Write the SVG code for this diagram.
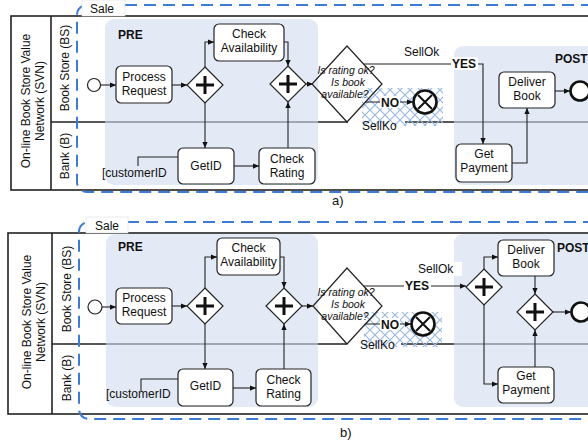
<svg xmlns="http://www.w3.org/2000/svg" width="588" height="444" viewBox="0 0 588 444">
<style>
.t{font-family:"Liberation Sans",Arial,sans-serif;font-size:12px;fill:#111}
.tm{text-anchor:middle}
.b{font-weight:bold}
.it{font-style:italic;font-size:10.5px}
.box{fill:#fff;stroke:#222;stroke-width:1.2}
.gw{fill:#fff;stroke:#222;stroke-width:1.2}
.dec{fill:none;stroke:#222;stroke-width:1.2}
.plus{stroke:#111;stroke-width:3;fill:none}
.ev{fill:#fff;stroke:#222;stroke-width:1.2}
.end{fill:#fff;stroke:#111;stroke-width:2.6}
.x{stroke:#111;stroke-width:2;fill:none}
.cn{fill:none;stroke:#222;stroke-width:1.1}
.region{fill:#d2dcee;fill-opacity:0.6}
.pool{fill:none;stroke:#222;stroke-width:1.6}
.sale{fill:none;stroke:#3d7bd4;stroke-width:2;stroke-dasharray:12 7}
.wb{fill:#fff}
</style>
<defs>
<marker id="ah" viewBox="0 0 8 8" refX="8" refY="4" markerWidth="6" markerHeight="6" orient="auto" markerUnits="userSpaceOnUse"><path d="M0,0.5 L8,4 L0,7.5 z" fill="#111"/></marker>
<pattern id="hatch" patternUnits="userSpaceOnUse" width="10" height="10"><path d="M0,0 L10,10 M10,0 L0,10" stroke="#9ab8e2" stroke-width="1.2" fill="none"/></pattern>
</defs>

<!-- ================= a) ================= -->
<g id="diagram-a">
  <g id="pool-a">
    <path class="pool" d="M51,122 H348 M405,122 H640"/>
    <rect class="pool" x="11" y="16" width="630" height="174"/>
    <line class="pool" x1="51" y1="16" x2="51" y2="190"/>
    <text class="t tm" transform="translate(31,101) rotate(-90)"><tspan x="0" y="-1">On-line Book Store Value</tspan><tspan x="0" y="13">Network (SVN)</tspan></text>
    <text class="t tm" transform="translate(65,68) rotate(-90)" y="4">Book Store (BS)</text>
    <text class="t tm" transform="translate(65,156) rotate(-90)" y="4">Bank (B)</text>
  </g>
  <g id="sale-a">
    <rect class="sale" x="77" y="5" width="580" height="187" rx="10"/>
    <rect x="82" y="0" width="43" height="16" fill="#fff" stroke="#ddd" stroke-width="0.6"/>
    <text class="t" x="90" y="13">Sale</text>
  </g>
  <g id="pre-a">
    <rect class="region" x="105" y="19" width="213" height="166" rx="9"/>
    <text class="t b" x="118" y="39">PRE</text>
  </g>
  <g id="post-a">
    <rect class="region" x="454" y="46" width="160" height="139" rx="9"/>
    <text class="t b" x="555" y="63">POST</text>
  </g>
  <rect id="hatch-a" x="362" y="88" width="81" height="38" fill="url(#hatch)"/>
  <g id="connectors-a">
    <path class="cn" d="M100.5,85 H116" marker-end="url(#ah)"/>
    <path class="cn" d="M172,85 H187" marker-end="url(#ah)"/>
    <path class="cn" d="M205,67 V42 H214" marker-end="url(#ah)"/>
    <path class="cn" d="M284,42 H288 V66" marker-end="url(#ah)"/>
    <path class="cn" d="M205,103 V148" marker-end="url(#ah)"/>
    <path class="cn" d="M138,166 V157 H178"/>
    <path class="cn" d="M234,166 H259" marker-end="url(#ah)"/>
    <path class="cn" d="M288,148 V102" marker-end="url(#ah)"/>
    <path class="cn" d="M306,84 H313" marker-end="url(#ah)"/>
    <path class="cn" d="M364,64 H483 V144" marker-end="url(#ah)"/>
    <path class="cn" d="M365,102 H413" marker-end="url(#ah)"/>
    <path class="cn" d="M512,163 H527 V108" marker-end="url(#ah)"/>
    <path class="cn" d="M555,91 H570" marker-end="url(#ah)"/>
  </g>
  <g id="start-a"><circle class="ev" cx="94" cy="85" r="6.5"/></g>
  <g id="process-request-a">
    <rect class="box" x="116" y="66" width="56" height="37" rx="5"/>
    <text class="t tm" x="144" y="81">Process</text>
    <text class="t tm" x="144" y="95">Request</text>
  </g>
  <g id="gw1-a">
    <polygon class="gw" points="205,67 223,85 205,103 187,85"/>
    <path class="plus" d="M196,85 H214 M205,76 V94"/>
  </g>
  <g id="check-availability-a">
    <rect class="box" x="214" y="24" width="70" height="37" rx="5"/>
    <text class="t tm" x="249" y="38">Check</text>
    <text class="t tm" x="249" y="52">Availability</text>
  </g>
  <g id="gw2-a">
    <polygon class="gw" points="288,66 306,84 288,102 270,84"/>
    <path class="plus" d="M279,84 H297 M288,75 V93"/>
  </g>
  <g id="getid-a">
    <rect class="box" x="178" y="148" width="56" height="36" rx="5"/>
    <text class="t tm" x="206" y="170">GetID</text>
  </g>
  <g id="customerid-a"><text class="t" x="102" y="177">[customerID</text></g>
  <g id="check-rating-a">
    <rect class="box" x="259" y="148" width="56" height="36" rx="5"/>
    <text class="t tm" x="287" y="163">Check</text>
    <text class="t tm" x="287" y="177">Rating</text>
  </g>
  <g id="decision-a">
    <polygon class="dec" points="347,46 382,84 347,122 312,84"/>
    <text class="t it tm" x="346" y="74">Is rating ok?</text>
    <text class="t it tm" x="348" y="86">Is book</text>
    <text class="t it tm" x="345" y="98">available?</text>
  </g>
  <g id="labels-a">
    <text class="t" x="404" y="56">SellOk</text>
    <rect class="wb" x="451" y="57" width="27" height="13"/>
    <text class="t b" x="452" y="68">YES</text>
    <rect class="wb" x="380" y="96" width="20" height="12"/>
    <text class="t b" x="381" y="107">NO</text>
    <text class="t" x="362" y="130">SellKo</text>
  </g>
  <g id="sellko-end-a">
    <circle class="end" cx="425" cy="102" r="11.5"/>
    <path class="x" d="M418,95 L432,109 M432,95 L418,109"/>
  </g>
  <g id="get-payment-a">
    <rect class="box" x="456" y="144" width="56" height="38" rx="5"/>
    <text class="t tm" x="484" y="158">Get</text>
    <text class="t tm" x="484" y="172">Payment</text>
  </g>
  <g id="deliver-book-a">
    <rect class="box" x="499" y="72" width="56" height="36" rx="5"/>
    <text class="t tm" x="527" y="86">Deliver</text>
    <text class="t tm" x="527" y="100">Book</text>
  </g>
  <g id="end-a"><circle class="end" cx="580" cy="91" r="9.5"/></g>
  <text class="t" x="332" y="205" style="font-size:13px">a)</text>
</g>

<!-- ================= b) ================= -->
<g id="diagram-b">
  <g id="pool-b">
    <path class="pool" d="M52,344 H347 M401,344 H640"/>
    <rect class="pool" x="8" y="233" width="633" height="181"/>
    <line class="pool" x1="52" y1="233" x2="52" y2="414"/>
    <text class="t tm" transform="translate(32,322) rotate(-90)"><tspan x="0" y="-1">On-line Book Store Value</tspan><tspan x="0" y="13">Network (SVN)</tspan></text>
    <text class="t tm" transform="translate(67,289) rotate(-90)" y="4">Book Store (BS)</text>
    <text class="t tm" transform="translate(67,378) rotate(-90)" y="4">Bank (B)</text>
  </g>
  <g id="sale-b">
    <rect class="sale" x="79" y="222" width="580" height="197" rx="10"/>
    <rect x="86" y="217" width="42" height="16" fill="#fff" stroke="#ddd" stroke-width="0.6"/>
    <text class="t" x="95" y="230">Sale</text>
  </g>
  <g id="pre-b">
    <rect class="region" x="106" y="234" width="212" height="173" rx="9"/>
    <text class="t b" x="118" y="251">PRE</text>
  </g>
  <g id="post-b">
    <rect class="region" x="454" y="234" width="160" height="173" rx="9"/>
    <text class="t b" x="557" y="252">POST</text>
  </g>
  <rect id="hatch-b" x="364" y="312" width="78" height="35" fill="url(#hatch)"/>
  <g id="connectors-b">
    <path class="cn" d="M102,307 H116" marker-end="url(#ah)"/>
    <path class="cn" d="M172,306 H187" marker-end="url(#ah)"/>
    <path class="cn" d="M205,288 V257 H217" marker-end="url(#ah)"/>
    <path class="cn" d="M280,257 H284 V288" marker-end="url(#ah)"/>
    <path class="cn" d="M205,324 V369" marker-end="url(#ah)"/>
    <path class="cn" d="M141,391 V379 H178"/>
    <path class="cn" d="M233,388 H256" marker-end="url(#ah)"/>
    <path class="cn" d="M284,369 V324" marker-end="url(#ah)"/>
    <path class="cn" d="M302,306 H313" marker-end="url(#ah)"/>
    <path class="cn" d="M364,286 H466" marker-end="url(#ah)"/>
    <path class="cn" d="M365,324 H411" marker-end="url(#ah)"/>
    <path class="cn" d="M484,269 V257 H498" marker-end="url(#ah)"/>
    <path class="cn" d="M484,305 V384 H498" marker-end="url(#ah)"/>
    <path class="cn" d="M535,276 V294" marker-end="url(#ah)"/>
    <path class="cn" d="M535,367 V330" marker-end="url(#ah)"/>
    <path class="cn" d="M553,312 H571" marker-end="url(#ah)"/>
  </g>
  <g id="start-b"><circle class="ev" cx="95" cy="307" r="7"/></g>
  <g id="process-request-b">
    <rect class="box" x="116" y="288" width="56" height="36" rx="5"/>
    <text class="t tm" x="144" y="302">Process</text>
    <text class="t tm" x="144" y="316">Request</text>
  </g>
  <g id="gw1-b">
    <polygon class="gw" points="205,288 223,306 205,324 187,306"/>
    <path class="plus" d="M196,306 H214 M205,297 V315"/>
  </g>
  <g id="check-availability-b">
    <rect class="box" x="217" y="238" width="63" height="37" rx="5"/>
    <text class="t tm" x="248.5" y="252">Check</text>
    <text class="t tm" x="248.5" y="266">Availability</text>
  </g>
  <g id="gw2-b">
    <polygon class="gw" points="284,288 302,306 284,324 266,306"/>
    <path class="plus" d="M275,306 H293 M284,297 V315"/>
  </g>
  <g id="getid-b">
    <rect class="box" x="178" y="369" width="55" height="37" rx="5"/>
    <text class="t tm" x="205.5" y="390">GetID</text>
  </g>
  <g id="customerid-b"><text class="t" x="106" y="398">[customerID</text></g>
  <g id="check-rating-b">
    <rect class="box" x="256" y="369" width="55" height="37" rx="5"/>
    <text class="t tm" x="283.5" y="384">Check</text>
    <text class="t tm" x="283.5" y="398">Rating</text>
  </g>
  <g id="decision-b">
    <polygon class="dec" points="347,268 382,306 347,344 313,306"/>
    <text class="t it tm" x="346" y="296">Is rating ok?</text>
    <text class="t it tm" x="348" y="308">Is book</text>
    <text class="t it tm" x="345" y="320">available?</text>
  </g>
  <g id="labels-b">
    <rect class="wb" x="416" y="262" width="46" height="14"/>
    <text class="t" x="418" y="273">SellOk</text>
    <rect class="wb" x="404" y="279" width="27" height="13"/>
    <text class="t b" x="405" y="290">YES</text>
    <rect class="wb" x="380" y="318" width="20" height="12"/>
    <text class="t b" x="381" y="329">NO</text>
    <text class="t" x="360" y="349">SellKo</text>
  </g>
  <g id="sellko-end-b">
    <circle class="end" cx="423" cy="324" r="11.5"/>
    <path class="x" d="M416,317 L430,331 M430,317 L416,331"/>
  </g>
  <g id="gw3-b">
    <polygon class="gw" points="484,269 502,287 484,305 466,287"/>
    <path class="plus" d="M475,287 H493 M484,278 V296"/>
  </g>
  <g id="deliver-book-b">
    <rect class="box" x="498" y="240" width="56" height="36" rx="5"/>
    <text class="t tm" x="526" y="254">Deliver</text>
    <text class="t tm" x="526" y="268">Book</text>
  </g>
  <g id="get-payment-b">
    <rect class="box" x="498" y="367" width="56" height="36" rx="5"/>
    <text class="t tm" x="526" y="380">Get</text>
    <text class="t tm" x="526" y="394">Payment</text>
  </g>
  <g id="gw4-b">
    <polygon class="gw" points="535,294 553,312 535,330 517,312"/>
    <path class="plus" d="M526,312 H544 M535,303 V321"/>
  </g>
  <g id="end-b"><circle class="end" cx="581" cy="312" r="9.5"/></g>
  <text class="t" x="340" y="437" style="font-size:13px">b)</text>
</g>
</svg>
